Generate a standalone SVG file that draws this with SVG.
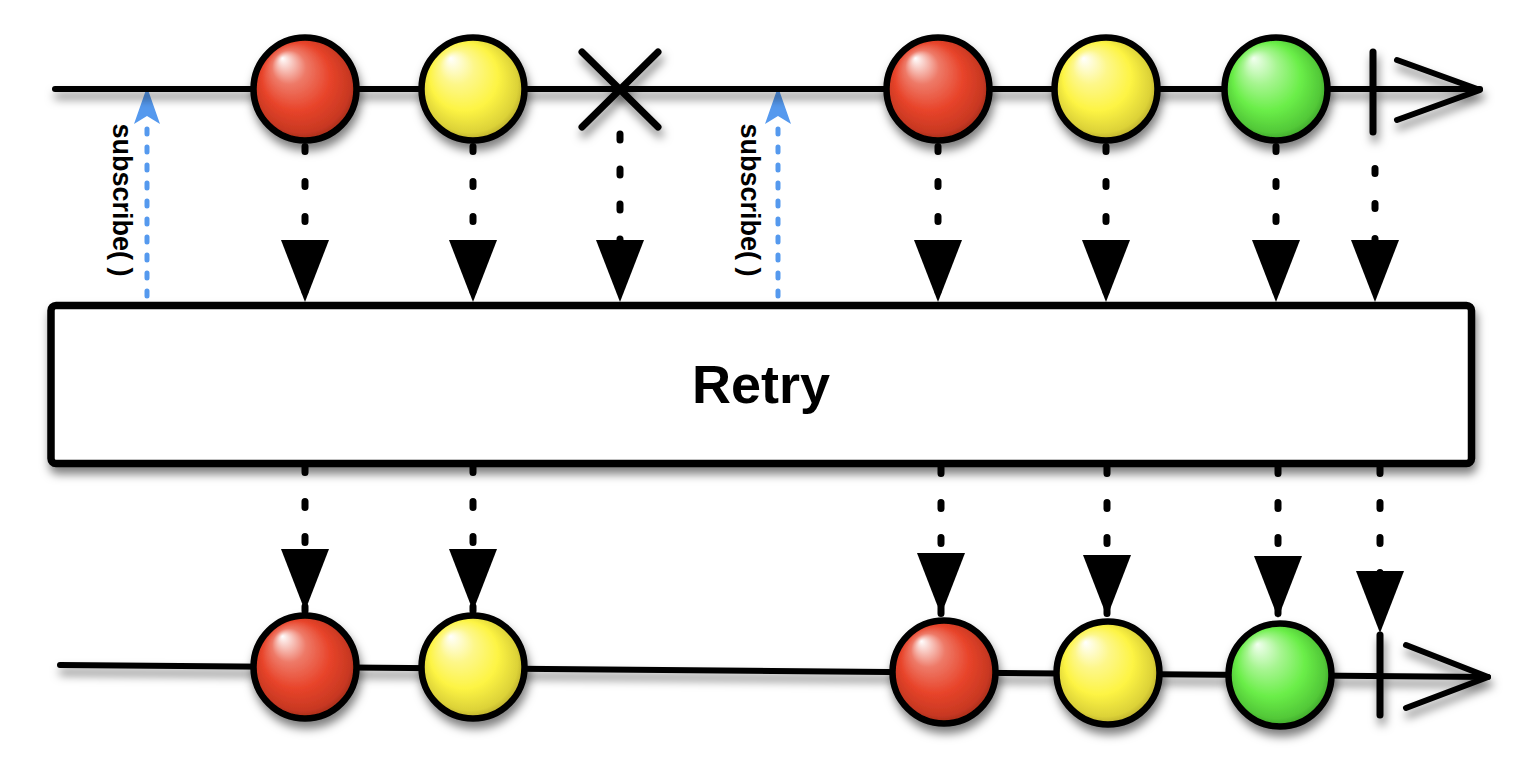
<svg xmlns="http://www.w3.org/2000/svg" width="1530" height="762" viewBox="0 0 1530 762">
  <style>
    .tl { fill: none; stroke: #000; stroke-width: 6; stroke-linecap: round; stroke-linejoin: round; }
    .ball { stroke: #000; stroke-width: 6.5; }
    .dash { fill: none; stroke: #000; stroke-width: 7; stroke-linecap: round; stroke-dasharray: 5 30; }
    .sub { fill: none; stroke: #5599ee; stroke-width: 5; stroke-linecap: round; stroke-dasharray: 5 13; }
    .subhead { fill: #5599ee; }
    .lbl { font-family: "Liberation Sans", Arial, sans-serif; font-weight: bold; font-size: 27px; fill: #000; }
    .title { font-family: "Liberation Sans", Arial, sans-serif; font-weight: bold; font-size: 54px; fill: #000; }
  </style>
  <defs>
    <filter id="sh" x="-20%" y="-30%" width="140%" height="180%">
      <feDropShadow dx="2" dy="7" stdDeviation="5" flood-color="#000" flood-opacity="0.5"/>
    </filter>
    <radialGradient id="gRed" cx="0.5" cy="0.5" r="0.55" fx="0.28" fy="0.2">
      <stop offset="0" stop-color="#ffffff"/>
      <stop offset="0.3" stop-color="#ee7a68"/>
      <stop offset="0.6" stop-color="#e8442a"/>
      <stop offset="0.85" stop-color="#c83822"/>
      <stop offset="1" stop-color="#8a2414"/>
    </radialGradient>
    <radialGradient id="gYel" cx="0.5" cy="0.5" r="0.55" fx="0.28" fy="0.2">
      <stop offset="0" stop-color="#ffffff"/>
      <stop offset="0.3" stop-color="#fdf78a"/>
      <stop offset="0.6" stop-color="#fdf444"/>
      <stop offset="0.85" stop-color="#dcd238"/>
      <stop offset="1" stop-color="#a09020"/>
    </radialGradient>
    <radialGradient id="gGrn" cx="0.5" cy="0.5" r="0.55" fx="0.28" fy="0.2">
      <stop offset="0" stop-color="#f2fff0"/>
      <stop offset="0.3" stop-color="#a6f590"/>
      <stop offset="0.6" stop-color="#6aee48"/>
      <stop offset="0.85" stop-color="#52c838"/>
      <stop offset="1" stop-color="#2e8a1e"/>
    </radialGradient>
    <marker id="tri" markerUnits="userSpaceOnUse" markerWidth="64" markerHeight="50" refX="62" refY="24" orient="auto">
      <path d="M0,0 L62,24 L0,48 Z" fill="#000"/>
    </marker>
  </defs>

  <!-- connectors -->
  <g id="connectors">
    <!-- top -> operator -->
    <path class="dash" d="M305,146.5 V302" marker-end="url(#tri)"/>
    <path class="dash" d="M473,146.5 V302" marker-end="url(#tri)"/>
    <path class="dash" d="M620,134 V302" style="stroke-dasharray:6 29" marker-end="url(#tri)"/>
    <path class="dash" d="M938,146.5 V302" marker-end="url(#tri)"/>
    <path class="dash" d="M1106,146.5 V302" marker-end="url(#tri)"/>
    <path class="dash" d="M1276,146.5 V302" marker-end="url(#tri)"/>
    <path class="dash" d="M1375,168.5 V302" marker-end="url(#tri)"/>
    <!-- operator -> bottom -->
    <path class="dash" d="M305,466.5 V611" style="stroke-dasharray:6 29" marker-end="url(#tri)"/>
    <path class="dash" d="M473,466.5 V611" style="stroke-dasharray:6 29" marker-end="url(#tri)"/>
    <path class="dash" d="M941,467.5 V615" style="stroke-dasharray:6 29" marker-end="url(#tri)"/>
    <path class="dash" d="M1107,467.5 V617" style="stroke-dasharray:6 29" marker-end="url(#tri)"/>
    <path class="dash" d="M1278,467.5 V618" style="stroke-dasharray:6 29" marker-end="url(#tri)"/>
    <path class="dash" d="M1380,467.5 V633" style="stroke-dasharray:6 29" marker-end="url(#tri)"/>
    <!-- subscribe arrows -->
    <path class="sub" d="M147,296 V118"/>
    <path class="subhead" d="M147,87 L160,124 L147,116 L134,124 Z"/>
    <path class="sub" d="M778,296 V118"/>
    <path class="subhead" d="M778,87 L791,124 L778,116 L765,124 Z"/>
  </g>

  <!-- source timeline -->
  <g id="source-timeline" filter="url(#sh)">
    <path class="tl" d="M55,89 H1480"/>
    <path class="tl" d="M1397,60 L1480,90 L1397,120"/>
    <path class="tl" d="M1373,52 V132" style="stroke-width:7"/>
  </g>
  <g id="src-red-1" filter="url(#sh)"><circle class="ball" cx="305" cy="89" r="51.5" fill="url(#gRed)"/></g>
  <g id="src-yellow-1" filter="url(#sh)"><circle class="ball" cx="473" cy="89" r="51.5" fill="url(#gYel)"/></g>
  <g id="src-error" filter="url(#sh)">
    <path class="tl" d="M582,52 L658,127 M658,52 L582,127" style="stroke-width:7"/>
  </g>
  <g id="src-red-2" filter="url(#sh)"><circle class="ball" cx="938" cy="89" r="51.5" fill="url(#gRed)"/></g>
  <g id="src-yellow-2" filter="url(#sh)"><circle class="ball" cx="1106" cy="89" r="51.5" fill="url(#gYel)"/></g>
  <g id="src-green" filter="url(#sh)"><circle class="ball" cx="1276" cy="89" r="51.5" fill="url(#gGrn)"/></g>

  <g id="subscribe-1">
    <text class="lbl" transform="translate(113,200) rotate(90)" text-anchor="middle">subscribe( )</text>
  </g>
  <g id="subscribe-2">
    <text class="lbl" transform="translate(741,200) rotate(90)" text-anchor="middle">subscribe( )</text>
  </g>

  <!-- operator box -->
  <g id="retry-operator">
    <rect x="51" y="305.5" width="1420.5" height="158" rx="5" fill="#fff" stroke="#000" stroke-width="7.5" filter="url(#sh)"/>
    <text class="title" x="761" y="403" text-anchor="middle">Retry</text>
  </g>

  <!-- result timeline -->
  <g id="result-timeline" filter="url(#sh)">
    <path class="tl" d="M60,665 L1488,677"/>
    <path class="tl" d="M1406,645 L1488,677 L1406,708"/>
    <path class="tl" d="M1380,635 V715" style="stroke-width:7"/>
  </g>
  <g id="out-red-1" filter="url(#sh)"><circle class="ball" cx="305" cy="667" r="51.5" fill="url(#gRed)"/></g>
  <g id="out-yellow-1" filter="url(#sh)"><circle class="ball" cx="473" cy="667" r="51.5" fill="url(#gYel)"/></g>
  <g id="out-red-2" filter="url(#sh)"><circle class="ball" cx="944" cy="672" r="51.5" fill="url(#gRed)"/></g>
  <g id="out-yellow-2" filter="url(#sh)"><circle class="ball" cx="1108" cy="673" r="51.5" fill="url(#gYel)"/></g>
  <g id="out-green" filter="url(#sh)"><circle class="ball" cx="1280" cy="675" r="51.5" fill="url(#gGrn)"/></g>
</svg>
